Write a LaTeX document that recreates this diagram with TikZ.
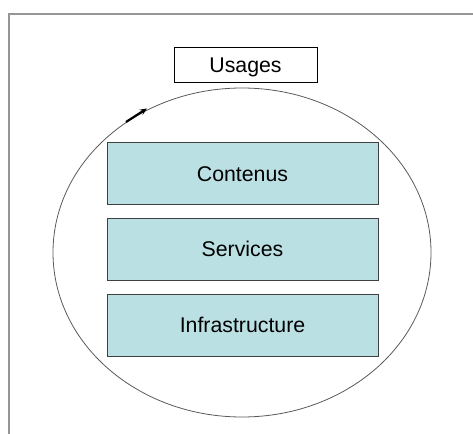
\documentclass[tikz,border=0pt]{standalone}
\usepackage{xcolor}
\usepackage{fontspec}
\setmainfont{Liberation Sans}
\usepackage{tikz}
\usetikzlibrary{arrows.meta, shapes}
\definecolor{layerfill}{RGB}{187, 224, 227}
\definecolor{layerline}{RGB}{64, 64, 64}
\definecolor{framegray}{RGB}{150, 150, 150}
\definecolor{ringgray}{RGB}{90, 90, 90}

\begin{document}
\begin{tikzpicture}[x=1bp, y=-1bp,
        layer/.style={draw=layerline, line width=0.9bp, fill=layerfill, minimum width=271bp, minimum height=62bp, inner sep=0pt, text height=15.3bp, text depth=0bp, font=\fontsize{21.3bp}{26bp}\selectfont},
        usagebox/.style={draw=black, line width=0.8bp, minimum width=143bp, minimum height=35bp, inner sep=0pt, text height=15.3bp, text depth=0bp, font=\fontsize{21.3bp}{26bp}\selectfont}]
        \useasboundingbox (0,0) rectangle (473,434);

        % frame
        \draw[framegray, line width=1.2bp] (9,434) -- (9,14) -- (473,14);

        % cycle
        \node[ellipse, draw=ringgray, line width=0.8bp, minimum width=378bp, minimum height=329bp, inner sep=0pt] (cycle) at (242,252.5) {};
        \coordinate (tail) at (126,122);
        \coordinate (tip) at (147,108.5);
        \draw[-{Stealth[length=7bp, width=6bp]}, line width=2.2bp] (tail) -- (tip);

        % usages
        \node[usagebox] (usages) at (245.5,64.5) {Usages};

        % layers
        \node[layer] (contenus) at (242.5,173.5) {Contenus};
        \node[layer] (services) at (242.5,249) {Services};
        \node[layer] (infra) at (242.5,325) {Infrastructure};
    \end{tikzpicture}
\end{document}
